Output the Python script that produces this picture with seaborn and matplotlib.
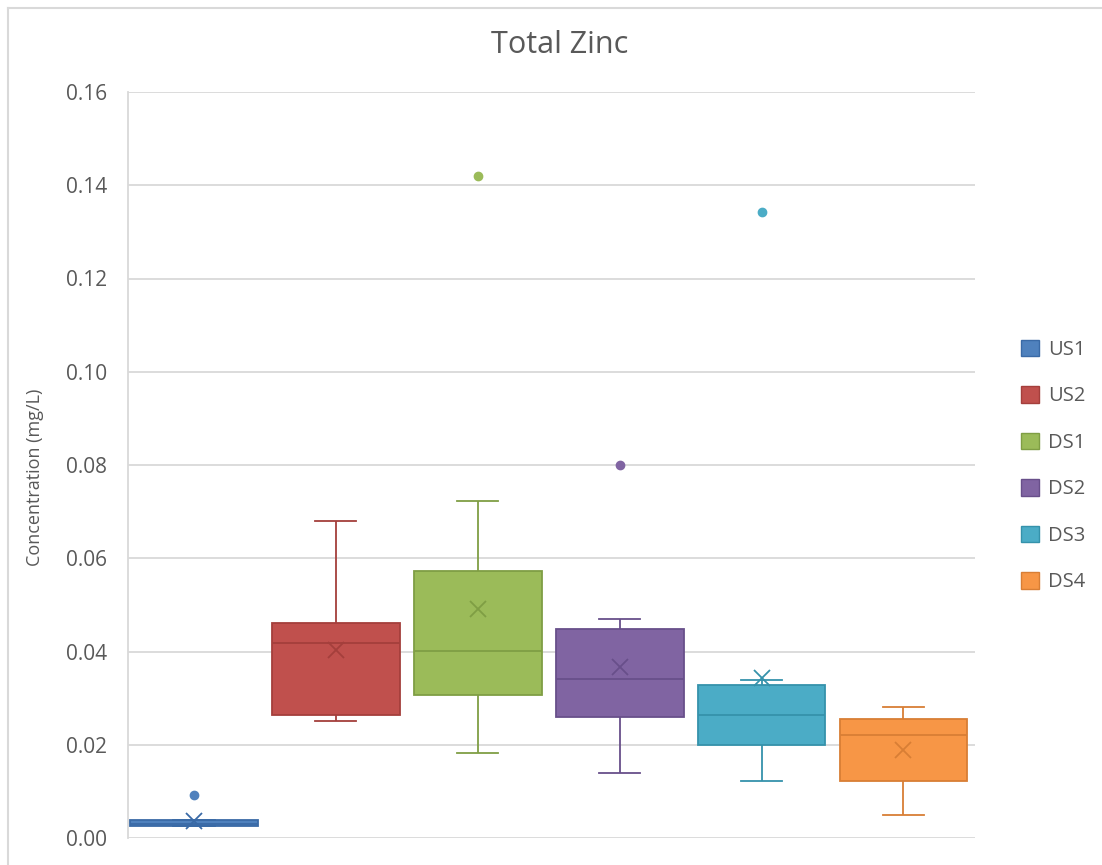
import pandas as pd
import matplotlib.pyplot as plt
import seaborn as sns
from matplotlib.patches import Patch
from matplotlib.lines import Line2D
from matplotlib.ticker import FormatStrFormatter

# Total zinc concentrations (mg/L) per sampling site
sites = ["US1", "US2", "DS1", "DS2", "DS3", "DS4"]
us1 = [0.0026, 0.0026, 0.0026, 0.0028, 0.0030, 0.0030, 0.0038, 0.0038, 0.0092]
us2 = [0.0251, 0.0258, 0.0264, 0.0355, 0.0418, 0.0440, 0.0461, 0.0500, 0.0680]
ds1 = [0.0182, 0.0220, 0.0280, 0.0307, 0.0330, 0.0370, 0.0401,
       0.0460, 0.0520, 0.0573, 0.0597, 0.0723, 0.1420]
ds2 = [0.0139, 0.0200, 0.0260, 0.0300, 0.0341, 0.0345, 0.0448, 0.0470, 0.0800]
ds3 = [0.0122, 0.0178, 0.0198, 0.0199, 0.0250, 0.0262, 0.0264,
       0.0315, 0.0325, 0.0328, 0.0336, 0.0339, 0.1343]
ds4 = [0.0049, 0.0090, 0.0122, 0.0170, 0.0221, 0.0240, 0.0255, 0.0273, 0.0281]

fills = ["#4F81BD", "#C0504D", "#9BBB59", "#8064A2", "#4BACC6", "#F79646"]
edges = ["#3A6AA6", "#A43F3C", "#7F9E44", "#684F8A", "#3592AB", "#D87E35"]

rows = []
for site, vals in zip(sites, [us1, us2, ds1, ds2, ds3, ds4]):
    rows += [{"site": site, "value": v} for v in vals]
df = pd.DataFrame(rows)

plt.rcParams["font.family"] = ["Open Sans", "DejaVu Sans"]
grey = "#595959"

fig = plt.figure(figsize=(11.02, 8.65), dpi=100)
ax = fig.add_axes([128 / 1102, 1 - 838 / 865, (975 - 128) / 1102, (838 - 92) / 865])

for site, fc, ec in zip(sites, fills, edges):
    sns.boxplot(data=df[df["site"] == site], x="site", y="value", order=sites,
                color=fc, linecolor=ec, saturation=1, width=0.9, linewidth=1.3,
                whis=1.5, capwidths=0.29, showmeans=True,
                meanprops=dict(marker="x", markeredgecolor=ec, markersize=11,
                               markeredgewidth=1.3),
                flierprops=dict(marker="o", markerfacecolor=fc,
                                markeredgecolor=fc, markersize=6),
                ax=ax)

ax.set_xlim(-0.465, 5.504)
ax.set_ylim(0, 0.16)
ax.set_yticks([0, 0.02, 0.04, 0.06, 0.08, 0.10, 0.12, 0.14, 0.16])
ax.yaxis.set_major_formatter(FormatStrFormatter("%.2f"))
ax.yaxis.grid(True, color="#D9D9D9", linewidth=1.3)
ax.set_axisbelow(True)
ax.set_xticks([])
ax.set_xlabel("")
ax.tick_params(axis="y", length=0, pad=15, labelsize=15, labelcolor=grey)
for s in ["top", "right", "bottom"]:
    ax.spines[s].set_visible(False)
ax.spines["left"].set_color("#D9D9D9")
ax.spines["left"].set_linewidth(1.3)
ax.set_ylabel("")

fig.text(35 / 1102, 1 - 477 / 865, "Concentration (mg/L)", rotation=90,
         ha="center", va="center", fontsize=13, color=grey)
fig.text(560 / 1102, 1 - 45 / 865, "Total Zinc", ha="center", va="center",
         fontsize=22, color=grey)

handles = [Patch(facecolor=fc, edgecolor=ec, linewidth=1) for fc, ec in zip(fills, edges)]
fig.legend(handles, sites, loc="center left", bbox_to_anchor=(1003 / 1102, 1 - 466 / 865),
           frameon=False, fontsize=14.5, labelcolor=grey, handlelength=0.9,
           handleheight=0.9, handletextpad=0.45, labelspacing=1.3)

# chart area border
fig.add_artist(Line2D([8 / 1102, 8 / 1102], [0, 1 - 8 / 865], transform=fig.transFigure,
                      color="#D9D9D9", linewidth=1.5))
fig.add_artist(Line2D([8 / 1102, 1], [1 - 8 / 865, 1 - 8 / 865], transform=fig.transFigure,
                      color="#D9D9D9", linewidth=1.5))

fig.savefig("out.png", dpi=100)
